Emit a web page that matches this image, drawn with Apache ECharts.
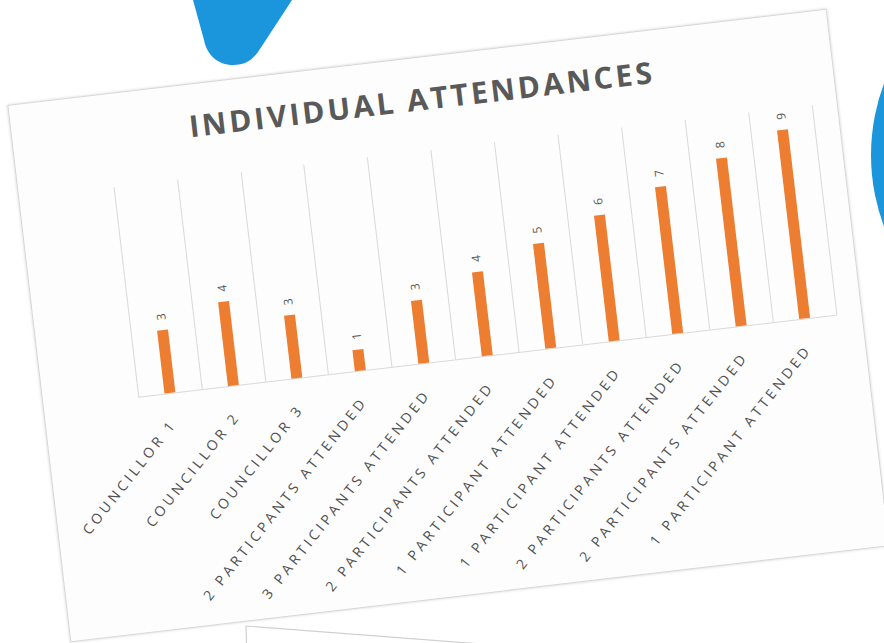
<!DOCTYPE html>
<html>
<head>
<meta charset="utf-8">
<script src="https://cdn.jsdelivr.net/npm/echarts@6/dist/echarts.min.js"></script>
<style>
html,body{margin:0;padding:0;background:#fff;width:884px;height:643px;overflow:hidden;}
#bg{position:absolute;left:0;top:0;}
#card{position:absolute;left:35.5px;top:54.5px;width:825px;height:541px;transform:rotate(-6.7deg);
  background:#fdfdfd;border:1px solid #d6d6d6;box-shadow:0 0 3px rgba(0,0,0,0.18);box-sizing:border-box;}
#chart{width:100%;height:100%;}
#chart text{letter-spacing:3.6px;}
#chart text[style*="30px"]{letter-spacing:3px;}
</style>
</head>
<body>
<svg id="bg" width="884" height="643">
  <path d="M193,0 L204,40 C207,55 218,65 233,65 C245,65 252,60 258,52 L292,0 Z" fill="#1b95dc"/>
  <circle cx="1074" cy="155" r="203" fill="#1b95dc"/>
  <polygon points="246,626 900,676 900,700 248,700" fill="#fff" stroke="#d0d0d0" stroke-width="1.2"/>
</svg>
<div id="card"><div id="chart"></div></div>
<script>
var categories = ['COUNCILLOR 1', 'COUNCILLOR 2', 'COUNCILLOR 3',
    '2 PARTICPANTS ATTENDED', '3 PARTICIPANTS ATTENDED', '2 PARTICIPANTS ATTENDED',
    '1 PARTICIPANT ATTENDED', '1 PARTICIPANT ATTENDED', '2 PARTICIPANTS ATTENDED',
    '2 PARTICIPANTS ATTENDED', '1 PARTICIPANT ATTENDED'];
var attendances = [3, 4, 3, 1, 3, 4, 5, 6, 7, 8, 9];
var chartTitle = 'INDIVIDUAL ATTENDANCES';

var option = {
    animation: false,
    title: {
        text: chartTitle,
        left: 'center',
        top: 21,
        textStyle: {fontFamily: 'Open Sans', fontWeight: 'bold', fontSize: 30, color: '#595959'}
    },
    grid: {left: 95, right: 25, top: 93, bottom: 235},
    xAxis: {
        type: 'category',
        data: categories,
        axisLine: {lineStyle: {color: '#d9d9d9'}},
        axisTick: {show: false},
        splitLine: {show: true, lineStyle: {color: '#d9d9d9'}},
        axisLabel: {interval: 0, rotate: 45, margin: 28, color: '#505050', fontFamily: 'Open Sans', fontSize: 14}
    },
    yAxis: {type: 'value', min: 0, max: 10, show: false},
    series: [
        {
            type: 'bar',
            data: attendances,
            barWidth: 11,
            itemStyle: {color: '#ED7D31'},
            label: {
                show: true, position: 'top', rotate: 90, align: 'left', verticalAlign: 'middle',
                distance: 10, color: '#595959', fontFamily: 'Open Sans', fontSize: 12
            }
        }
    ]
};

var myChart = echarts.init(document.getElementById('chart'), null, {renderer: 'svg'});
myChart.setOption(option);
</script>
</body>
</html>
